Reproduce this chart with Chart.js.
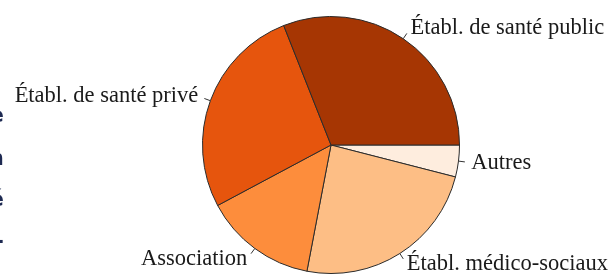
<!DOCTYPE html>
<html>
<head>
<meta charset="utf-8">
<script src="https://cdn.jsdelivr.net/npm/chart.js@4/dist/chart.umd.min.js"></script>
<style>
  html, body { margin: 0; padding: 0; background: #fff; }
  #wrap { position: relative; width: 612px; height: 279px; overflow: hidden; }
  #edge { position: absolute; left: -30px; top: 0; width: 34px; text-align: right;
          font-family: "DejaVu Sans", sans-serif; font-weight: bold; font-size: 22px; color: #1e2a52; }
  #edge span { position: absolute; right: 0; }
</style>
</head>
<body>
<div id="wrap">
  <canvas id="pie" width="612" height="279"></canvas>
  <div id="edge">
    <span style="top:102px">e</span>
    <span style="top:145px">n</span>
    <span style="top:186px">é</span>
    <span style="top:228px">-</span>
  </div>
</div>
<script>
// order as R draws it: counter-clockwise from 3 o'clock
const labels = ["Établ. de santé public", "Établ. de santé privé", "Association", "Établ. médico-sociaux", "Autres"];
const shares = [31, 26.8, 14.2, 24, 4];
const colors = ["#a63603", "#e6550d", "#fd8d3c", "#fdbe85", "#feedde"];

// Chart.js goes clockwise, so reverse and start at 3 o'clock
const revLabels = labels.slice().reverse();
const revShares = shares.slice().reverse();
const revColors = colors.slice().reverse();

const pieLabels = {
  id: "pieLabels",
  afterDatasetsDraw(chart) {
    const ctx = chart.ctx;
    const meta = chart.getDatasetMeta(0);
    ctx.save();
    ctx.font = "22.5px 'Liberation Serif', serif";
    ctx.fillStyle = "#1a1a1a";
    ctx.strokeStyle = "#333";
    ctx.lineWidth = 1;
    meta.data.forEach((arc, i) => {
      const mid = (arc.startAngle + arc.endAngle) / 2;
      const r = arc.outerRadius;
      const c = Math.cos(mid), s = Math.sin(mid);
      ctx.beginPath();
      ctx.moveTo(arc.x + r * c, arc.y + r * s);
      ctx.lineTo(arc.x + 1.05 * r * c, arc.y + 1.05 * r * s);
      ctx.stroke();
      ctx.textAlign = c >= 0 ? "left" : "right";
      ctx.textBaseline = "middle";
      ctx.fillText(chart.data.labels[i], arc.x + 1.1 * r * c, arc.y + 1.1 * r * s);
    });
    ctx.restore();
  }
};

const ctx = document.getElementById("pie").getContext("2d");
new Chart(ctx, {
  type: "pie",
  data: {
    labels: revLabels,
    datasets: [{
      data: revShares,
      backgroundColor: revColors,
      borderColor: "#2b2b2b",
      borderWidth: 1
    }]
  },
  options: {
    responsive: false,
    animation: false,
    rotation: 90,
    layout: { padding: { left: 50, right: 0, top: 16, bottom: 5 } },
    plugins: {
      legend: { display: false },
      tooltip: { enabled: false }
    }
  },
  plugins: [pieLabels]
});
</script>
</body>
</html>
